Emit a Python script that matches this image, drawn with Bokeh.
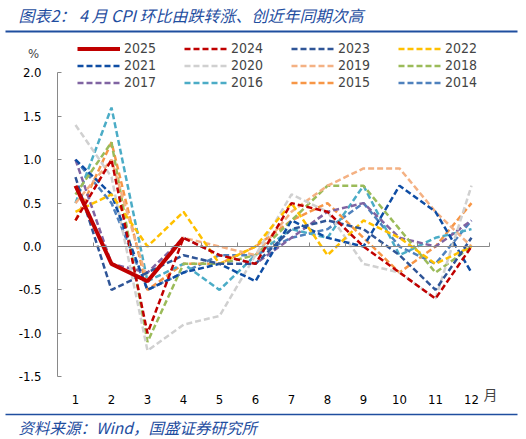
from bokeh.plotting import figure
from bokeh.models import (Range1d, FixedTicker, LinearAxis, NumeralTickFormatter,
                          CustomJSTickFormatter, Legend, LegendItem, Label, BoxAnnotation)
from bokeh.embed import file_html
from bokeh.resources import INLINE

months = [1, 2, 3, 4, 5, 6, 7, 8, 9, 10, 11, 12]
y_ticks = [-1.5, -1.0, -0.5, 0.0, 0.5, 1.0, 1.5, 2.0]

# CPI month-on-month, %
cpi_2025 = [0.7, -0.2, -0.4, 0.1]
cpi_2024 = [0.3, 1.0, -1.0, 0.1, -0.1, -0.2, 0.5, 0.4, 0.0, -0.3, -0.6, 0.0]
cpi_2023 = [0.8, -0.5, -0.3, -0.1, -0.2, -0.2, 0.2, 0.3, 0.2, -0.1, -0.5, 0.1]
cpi_2022 = [0.4, 0.6, 0.0, 0.4, -0.2, 0.0, 0.5, -0.1, 0.3, 0.1, -0.2, 0.0]
cpi_2021 = [1.0, 0.6, -0.5, -0.3, -0.2, -0.4, 0.3, 0.1, 0.0, 0.7, 0.4, -0.3]
cpi_2020 = [1.4, 0.8, -1.2, -0.9, -0.8, -0.1, 0.6, 0.4, -0.2, -0.3, -0.6, 0.7]
cpi_2019 = [0.5, 1.0, -0.4, 0.1, 0.0, -0.1, 0.4, 0.7, 0.9, 0.9, 0.4, 0.0]
cpi_2018 = [0.6, 1.2, -1.1, -0.2, -0.2, -0.1, 0.3, 0.7, 0.7, 0.2, -0.3, 0.0]
cpi_2017 = [1.0, -0.2, -0.3, 0.1, -0.1, -0.2, 0.1, 0.4, 0.5, 0.1, 0.0, 0.3]
cpi_2016 = [0.5, 1.6, -0.4, -0.2, -0.5, -0.1, 0.2, 0.1, 0.7, -0.1, 0.1, 0.2]
cpi_2015 = [0.3, 1.2, -0.5, -0.2, -0.2, 0.0, 0.3, 0.5, 0.1, -0.3, 0.0, 0.5]
cpi_2014 = [1.0, 0.5, -0.5, -0.3, -0.1, -0.1, 0.1, 0.2, 0.5, 0.0, -0.2, 0.3]

# legend order (row by row), colours
series = [
    ("2025", cpi_2025, "#C00000"),
    ("2024", cpi_2024, "#C00000"),
    ("2023", cpi_2023, "#2F5597"),
    ("2022", cpi_2022, "#FFC000"),
    ("2021", cpi_2021, "#0E4DA4"),
    ("2020", cpi_2020, "#D0D0D0"),
    ("2019", cpi_2019, "#F4B183"),
    ("2018", cpi_2018, "#9BBB59"),
    ("2017", cpi_2017, "#8064A2"),
    ("2016", cpi_2016, "#4BACC6"),
    ("2015", cpi_2015, "#F79646"),
    ("2014", cpi_2014, "#4F81BD"),
]

num_font = "DejaVu Sans Condensed"
cjk_font = "Noto Sans CJK SC"
blue = "#1F4E9F"
gray = "#898989"

W, H = 526, 439
# the whole canvas is the plot frame; month 1 sits 75px from the left,
# 36px per month, zero line 246px from the top, 86.8px per percentage point
px_month, x0_px = 36.0, 75.0
px_unit, y0_px = 86.8, 246.0
x_range = Range1d(1 - x0_px / px_month, 1 + (W - x0_px) / px_month)
y_range = Range1d(-(H - y0_px) / px_unit, y0_px / px_unit)

p = figure(width=W, height=H, output_backend="svg", toolbar_location=None, title=None,
           x_range=x_range, y_range=y_range,
           min_border_left=0, min_border_right=0, min_border_top=0, min_border_bottom=0)
p.xgrid.visible = False
p.ygrid.visible = False
p.outline_line_color = None

# axis line through zero with small ticks between months
xa = p.xaxis[0]
xa.fixed_location = 0
xa.bounds = (0.5, 12.5)
xa.ticker = FixedTicker(ticks=[m - 0.5 for m in months] + [12.5])
xa.formatter = CustomJSTickFormatter(code="return ''")
xa.axis_line_color = gray
xa.major_tick_line_color = gray
xa.minor_tick_line_color = None
xa.major_tick_in = 4
xa.major_tick_out = 0

# month labels along the bottom
month_axis = LinearAxis(fixed_location=y_ticks[0], bounds=(0.5, 12.5),
                        ticker=FixedTicker(ticks=months),
                        axis_line_color=None, major_tick_line_color=None,
                        minor_tick_line_color=None, major_label_standoff=12,
                        major_label_text_font=num_font, major_label_text_font_size="13px",
                        major_label_text_color="#000000")
p.add_layout(month_axis, "below")

ya = p.yaxis[0]
ya.fixed_location = 0.5
ya.bounds = (y_ticks[0], y_ticks[-1])
ya.ticker = FixedTicker(ticks=y_ticks)
ya.formatter = NumeralTickFormatter(format="0.0")
ya.axis_line_color = gray
ya.major_tick_line_color = gray
ya.minor_tick_line_color = None
ya.major_tick_out = 0
ya.major_tick_in = 4
ya.major_label_standoff = 16
ya.major_label_text_font = num_font
ya.major_label_text_font_size = "13px"
ya.major_label_text_color = "#000000"

renderers = {}
for name, vals, color in reversed(series):
    if name == "2025":
        r = p.line(months[:len(vals)], vals, line_color=color, line_width=4)
    else:
        r = p.line(months[:len(vals)], vals, line_color=color, line_width=2.5, line_dash="6 3")
    renderers[name] = r

legend = Legend(items=[LegendItem(label=name, renderers=[renderers[name]]) for name, _, _ in series],
                location=(77, H - 90.5), orientation="horizontal", ncols=4,
                glyph_width=43, glyph_height=17, label_height=17, label_width=60,
                label_standoff=4, spacing=0, padding=0, margin=0,
                label_text_font=num_font, label_text_font_size="14px",
                border_line_color=None, background_fill_alpha=0)
p.add_layout(legend, "center")

p.add_layout(Label(x=18, y=H - 14, x_units="screen", y_units="screen",
                   text="图表2： 4 月 CPI 环比由跌转涨、创近年同期次高",
                   text_font=cjk_font, text_font_size="16px", text_font_style="italic",
                   text_color=blue, text_baseline="middle"))
p.add_layout(Label(x=18, y=H - 426, x_units="screen", y_units="screen",
                   text="资料来源：Wind，国盛证券研究所",
                   text_font=cjk_font, text_font_size="15.5px", text_font_style="italic",
                   text_color=blue, text_baseline="middle"))
p.add_layout(Label(x=33, y=H - 53, x_units="screen", y_units="screen", text="%",
                   text_font=num_font, text_font_size="13px", text_align="center",
                   text_baseline="middle"))
p.add_layout(Label(x=490, y=H - 393, x_units="screen", y_units="screen", text="月",
                   text_font=cjk_font, text_font_size="14px", text_align="center",
                   text_baseline="middle"))

# blue rules under the title and above the source line
p.add_layout(BoxAnnotation(left=5, right=517, top=H - 30, bottom=H - 32,
                           left_units="screen", right_units="screen",
                           top_units="screen", bottom_units="screen",
                           fill_color=blue, fill_alpha=1, line_color=None))
p.add_layout(BoxAnnotation(left=5, right=517, top=H - 413.3, bottom=H - 414.7,
                           left_units="screen", right_units="screen",
                           top_units="screen", bottom_units="screen",
                           fill_color=blue, fill_alpha=1, line_color=None))

open("out.html", "w").write(file_html(p, INLINE))
